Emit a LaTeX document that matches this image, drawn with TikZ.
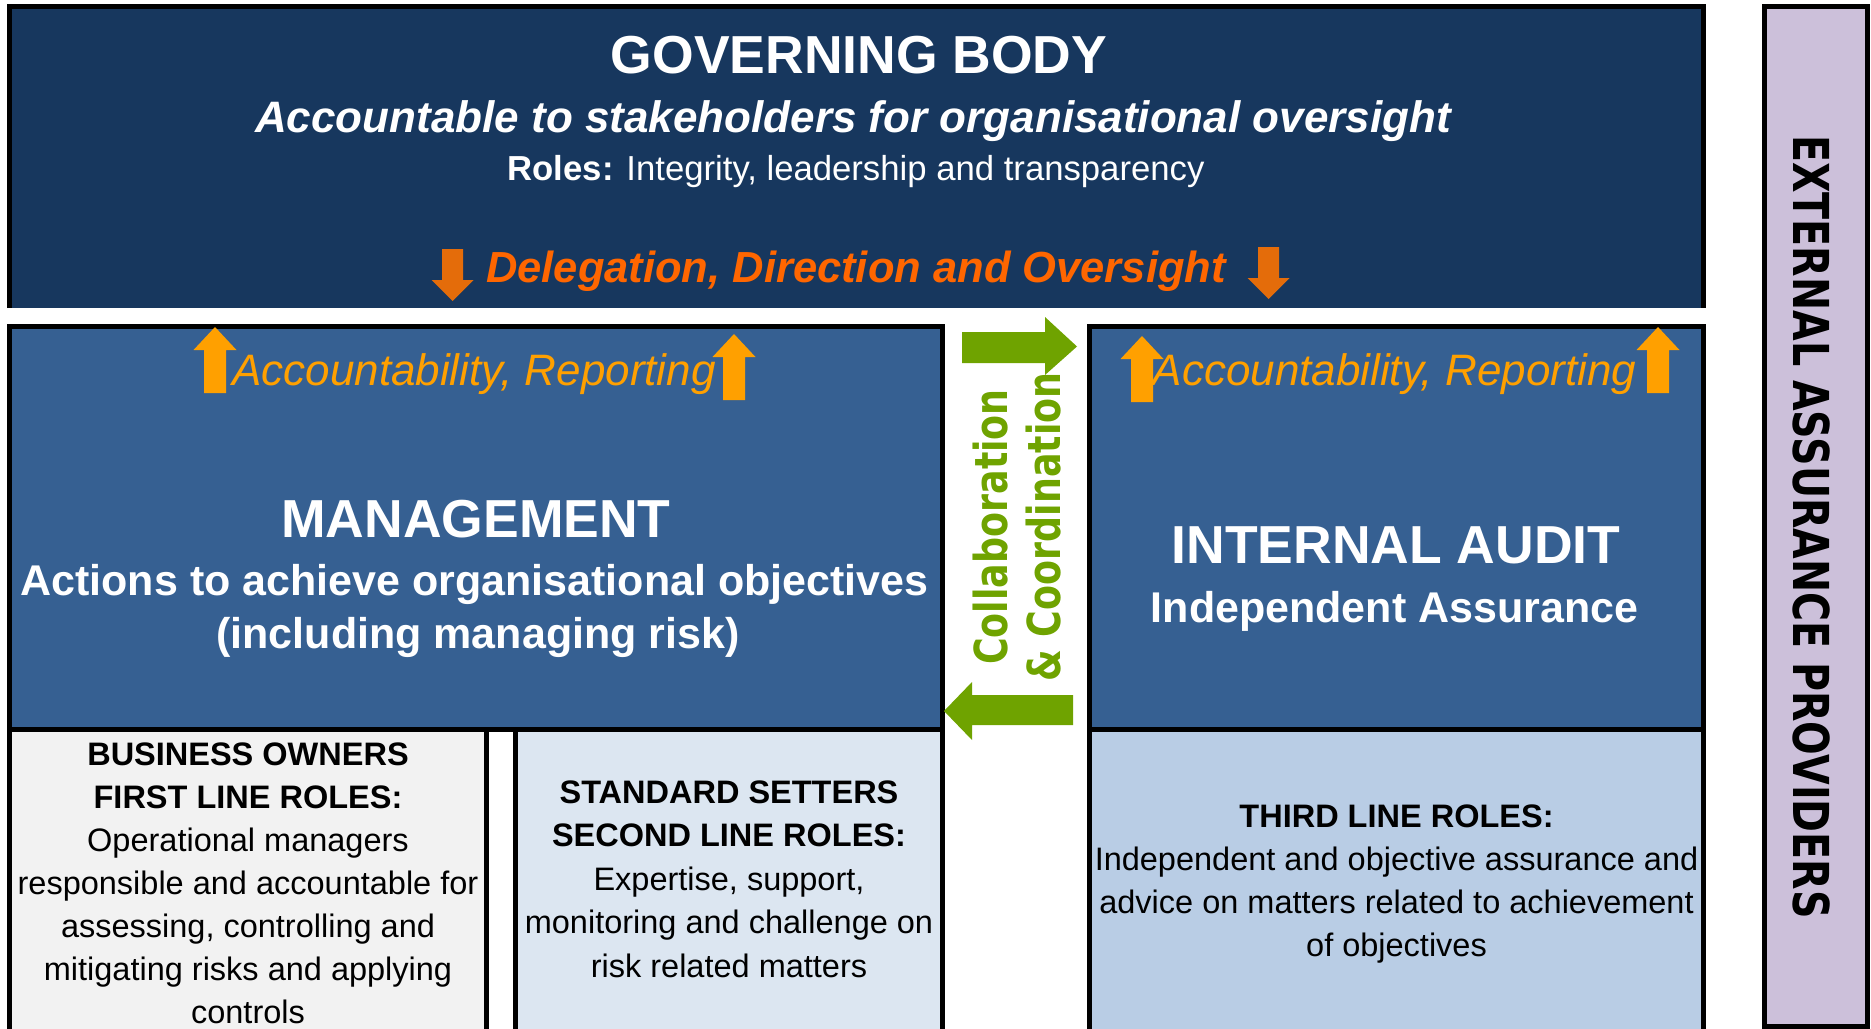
\documentclass[tikz,border=0pt]{standalone}
\usepackage{fontspec}
\setmainfont{Liberation Sans}
\newfontfamily\widefont[FakeStretch=0.8]{DejaVu Sans}
\newcommand{\fsz}[1]{\fontsize{#1}{#1}\selectfont}
\definecolor{govblue}{HTML}{17375E}
\definecolor{mgmtblue}{HTML}{366092}
\definecolor{firstgray}{HTML}{F2F2F2}
\definecolor{secondblue}{HTML}{DCE6F1}
\definecolor{thirdblue}{HTML}{B9CDE5}
\definecolor{extpurple}{HTML}{CCC0DA}
\definecolor{delorange}{HTML}{E46C0A}
\definecolor{deltext}{HTML}{FF6600}
\definecolor{accorange}{HTML}{FFA000}
\definecolor{collgreen}{HTML}{6FA300}
\tikzset{
  box/.style={draw=black,line width=5pt},
  txt/.style={inner sep=0pt,anchor=base},
  wtxt/.style={txt,text=white},
  acctxt/.style={txt,text=accorange,font=\fsz{44}\itshape},
  rowtxt/.style={txt,font=\fsz{32.5}}
}
\begin{document}
\begin{tikzpicture}[x=1pt,y=-1pt,line join=miter]
\useasboundingbox (0,0) rectangle (1871,1028);
\clip (0,0) rectangle (1871,1028);
% governing body
\fill[govblue] (9.5,6.5) rectangle (1703.5,308);
\draw[line width=5pt] (9.5,308) |- (1703.5,6.5) -- (1703.5,308);
\node[wtxt] (gbtitle) at (859,73) {\fsz{53.5}\bfseries GOVERNING BODY};
\node[wtxt] (gbsub) at (853,132) {\fsz{44}\bfseries\itshape Accountable to stakeholders for organisational oversight};
\node[wtxt] (gbroles) at (856,180) {\fsz{34.7}\textbf{Roles:} Integrity, leadership and transparency};
\node[txt,text=deltext] (deleg) at (856,282) {\fsz{43.5}\bfseries\itshape Delegation, Direction and Oversight};
\foreach \x/\t in {452.5/249,1268.5/247}
  \fill[delorange] (\x-10.5,\t) -- (\x+10.5,\t) -- (\x+10.5,\t+31) -- (\x+21,\t+31)
    -- (\x,\t+52) -- (\x-21,\t+31) -- (\x-10.5,\t+31) -- cycle;
% management and internal audit
\filldraw[box,fill=mgmtblue] (9.5,326.5) rectangle (942.5,729.5);
\filldraw[box,fill=mgmtblue] (1089.5,326.5) rectangle (1703.5,729.5);
\node[acctxt] (mgacc) at (474,385) {Accountability, Reporting};
\node[acctxt] (iaacc) at (1394.5,385) {Accountability, Reporting};
\foreach \x/\t in {215/327,734/334,1142/336,1658/327}
  \fill[accorange] (\x,\t) -- (\x+21.5,\t+23) -- (\x+11,\t+23) -- (\x+11,\t+66)
    -- (\x-11,\t+66) -- (\x-11,\t+23) -- (\x-21.5,\t+23) -- cycle;
\node[wtxt] (mgtitle) at (476,537) {\fsz{53.5}\bfseries MANAGEMENT};
\node[wtxt] (mgsub) at (474.5,595) {\fsz{43}\bfseries Actions to achieve organisational objectives};
\node[wtxt] (mgrisk) at (478,648) {\fsz{43}\bfseries (including managing risk)};
\node[wtxt] (iatitle) at (1396,563) {\fsz{53.5}\bfseries INTERNAL AUDIT};
\node[wtxt] (iasub) at (1394.5,622) {\fsz{43}\bfseries Independent Assurance};
% collaboration arrows
\fill[collgreen] (962,332) -- (1045,332) -- (1045,317) -- (1077,346.5) -- (1045,375)
  -- (1045,363) -- (962,363) -- cycle;
\fill[collgreen] (1073,695) -- (972,695) -- (972,682) -- (944,711) -- (972,740)
  -- (972,725) -- (1073,725) -- cycle;
\node[txt,rotate=90,text=collgreen] (collab) at (1007,527) {\widefont\bfseries\fsz{45.5}Collaboration};
\node[txt,rotate=90,text=collgreen] (coord) at (1060,527) {\widefont\bfseries\fsz{45.5}\& Coordination};
% three lines
\filldraw[box,fill=firstgray] (9.5,729.5) rectangle (486.5,1045);
\filldraw[box,fill=secondblue] (515.5,729.5) rectangle (942.5,1045);
\filldraw[box,fill=thirdblue] (1089.5,729.5) rectangle (1703.5,1045);
\foreach \t [count=\i] in {{\bfseries BUSINESS OWNERS},{\bfseries FIRST LINE ROLES:},
    Operational managers,responsible and accountable for,{assessing, controlling and},
    mitigating risks and applying,controls}
  \node[rowtxt] (first\i) at (248,{765+43*(\i-1)}) {\t};
\foreach \t [count=\i] in {{\bfseries STANDARD SETTERS},{\bfseries SECOND LINE ROLES:},
    {Expertise, support,},monitoring and challenge on,risk related matters}
  \node[rowtxt] (second\i) at (729,{803+43.5*(\i-1)}) {\t};
\foreach \t [count=\i] in {{\bfseries THIRD LINE ROLES:},Independent and objective assurance and,
    advice on matters related to achievement,of objectives}
  \node[rowtxt] (third\i) at (1396.5,{827+43.3*(\i-1)}) {\t};
% external assurance
\filldraw[box,fill=extpurple] (1764.5,6.5) rectangle (1867.5,1026.5);
\node[inner sep=0pt,rotate=-90] (ext) at (1811,527) {\widefont\bfseries\fsz{49.5}EXTERNAL ASSURANCE PROVIDERS};
\end{tikzpicture}
\end{document}
